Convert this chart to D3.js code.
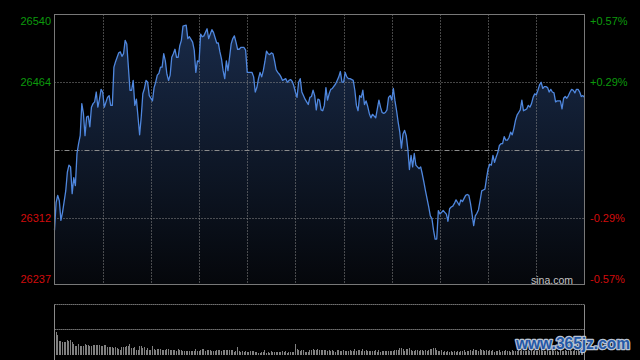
<!DOCTYPE html>
<html><head><meta charset="utf-8">
<script src="https://cdn.jsdelivr.net/npm/d3@7"></script>
<style>html,body{margin:0;padding:0;background:#000;} svg{display:block}</style>
</head><body>
<svg id="c" width="640" height="360"></svg>
<script>
// trading minutes since 09:30 (lunch break removed), and index level
const minutes = [0,1,2,3,4,5,7,8,9,10,11,12,13,14,15,16,17,18,19,20,21,22,23,24,25,26,27,28,29,30,31,33,34,35,36,37,38,39,40,41,42,43,44,45,46,47,48,49,50,51,52,53,54,55,56,57,58,59,61,62,63,64,65,66,67,68,69,70,71,72,73,74,75,76,77,78,79,80,82,83,84,85,86,87,88,89,90,91,92,93,95,96,98,99,101,102,103,104,105,106,107,108,109,110,111,112,113,114,115,116,118,119,120,121,123,124,125,126,127,128,129,130,131,132,133,134,135,136,137,138,139,140,141,142,144,145,146,147,148,149,150,151,152,153,154,155,156,157,158,159,160,161,162,163,164,165,166,167,168,169,170,171,172,173,175,176,177,178,179,180,181,182,183,184,186,187,188,189,190,191,192,193,194,195,196,197,198,200,201,202,203,204,205,206,207,208,209,210,211,212,213,214,215,216,217,218,219,220,221,222,223,224,225,226,227,228,229,230,231,232,233,234,235,236,237,238,239,240,241,242,243,244,245,246,247,248,249,250,251,252,253,254,256,257,258,259,260,261,262,263,264,265,266,267,268,269,270,271,272,273,274,275,276,277,278,279,280,281,282,283,284,285,286,287,288,289,290,291,292,293,294,295,296,297,298,299,300,301,302,303,304,305,306,307,308,309,310,311,312,313,314,315,316,317,318,319,320,321,322,323,324,325,326,327,328,329,330];
const prices = [26298,26329,26337,26331,26309,26318,26342,26363,26371,26369,26339,26357,26348,26384,26395,26404,26440,26429,26404,26425,26426,26414,26436,26440,26442,26453,26436,26445,26456,26453,26436,26447,26449,26438,26438,26481,26487,26492,26497,26498,26493,26496,26511,26507,26481,26455,26455,26466,26438,26445,26425,26405,26425,26451,26457,26466,26464,26449,26443,26458,26464,26472,26474,26481,26481,26496,26488,26473,26466,26472,26492,26496,26501,26492,26492,26505,26511,26527,26528,26513,26515,26512,26509,26500,26475,26488,26487,26518,26515,26516,26524,26513,26523,26520,26508,26508,26498,26490,26477,26468,26488,26477,26492,26507,26513,26516,26509,26501,26501,26503,26503,26500,26475,26475,26475,26470,26453,26458,26468,26475,26470,26477,26487,26499,26496,26495,26497,26496,26488,26478,26475,26473,26470,26466,26468,26464,26466,26467,26465,26460,26453,26447,26464,26468,26453,26449,26445,26442,26439,26447,26448,26455,26449,26433,26445,26444,26433,26432,26438,26458,26444,26451,26456,26457,26462,26466,26470,26476,26464,26464,26475,26470,26468,26468,26466,26455,26438,26432,26449,26447,26455,26439,26443,26437,26429,26424,26428,26424,26434,26444,26436,26430,26429,26430,26433,26447,26449,26444,26457,26443,26432,26419,26408,26390,26406,26410,26404,26389,26366,26382,26369,26384,26371,26369,26367,26369,26361,26352,26342,26333,26324,26314,26311,26298,26288,26288,26320,26316,26318,26320,26318,26316,26308,26322,26324,26325,26328,26332,26329,26326,26332,26330,26337,26338,26337,26328,26316,26303,26314,26317,26321,26331,26342,26343,26344,26356,26367,26372,26371,26382,26374,26380,26385,26393,26395,26395,26403,26399,26399,26402,26408,26405,26412,26421,26427,26430,26433,26444,26432,26433,26434,26438,26436,26440,26447,26451,26450,26455,26461,26464,26457,26459,26459,26458,26453,26456,26453,26452,26442,26443,26443,26443,26434,26446,26448,26446,26449,26453,26456,26455,26452,26456,26456,26453,26448,26449,26447];
// volume per minute (relative units, index = minute)
const volumes = [100,46,40,28,28,25,25,25,30,27,
30,25,22,18,17,22,17,18,18,22,
20,20,18,18,20,20,20,20,20,18,
17,19,19,15,15,15,15,14,15,13,
12,10,15,15,15,17,18,21,13,13,
15,10,10,18,18,13,15,10,13,10,
10,18,11,9,11,11,11,9,9,10,
11,11,10,9,9,10,8,11,10,10,
8,8,8,7,8,8,8,8,11,8,
8,10,11,11,7,9,9,9,8,7,
7,9,9,10,8,9,10,10,10,9,
10,10,6,7,15,7,6,8,6,8,
6,5,8,7,8,5,5,3,3,6,
6,9,3,5,3,7,5,6,6,6,
6,5,7,5,8,3,6,5,5,5,
22,11,9,7,9,9,6,6,6,9,
9,11,10,10,11,9,10,10,10,10,
8,10,7,10,8,6,9,9,7,7,
10,7,8,7,9,8,8,11,8,10,
10,7,11,8,9,7,8,7,8,8,
9,6,9,6,8,8,8,7,7,8,
8,7,10,10,10,13,13,11,7,11,
11,13,10,8,7,10,9,8,10,10,
7,10,7,10,11,11,13,13,10,8,
7,10,6,7,5,8,6,7,6,8,
5,7,6,8,7,9,6,8,7,10,
8,11,9,10,8,11,9,10,7,9,
8,10,7,9,6,8,7,9,6,8,
7,9,7,8,6,9,7,8,7,9,
8,10,7,8,7,9,8,10,8,9,
7,8,10,9,7,8,7,9,8,7,
9,8,7,8,6,9,7,8,9,7,
8,9,7,8,10,8,9,7,8,9,
12];
const leftTicks = [26540, 26464, 26312, 26237];
const rightTicks = ["+0.57%", "+0.29%", "-0.29%", "-0.57%"];
const prevClose = 26388.5;
const sourceLabel = "sina.com";
const watermarkLabel = "www.365jz.com";

const W = 640, H = 360;
const plot = {l: 54.5, r: 584.5, t: 14.5, b: 284.5};
const vol = {t: 304.5, b: 354.5};
const x = d3.scaleLinear().domain([0, 330]).range([plot.l, plot.r]);
const y = d3.scaleLinear().domain([26237, 26540]).range([plot.b, plot.t]);
const yv = d3.scaleLinear().domain([0, 100]).range([vol.b, vol.t]);
const font = "'Liberation Sans', Arial, sans-serif";

const svg = d3.select("#c");
svg.append("rect").attr("width", W).attr("height", H).attr("fill", "#000");

const defs = svg.append("defs");
const grad = defs.append("linearGradient").attr("id", "ag")
  .attr("gradientUnits", "userSpaceOnUse")
  .attr("x1", 0).attr("x2", 0).attr("y1", plot.t).attr("y2", plot.b);
grad.append("stop").attr("offset", 0).attr("stop-color", "#192b4a");
grad.append("stop").attr("offset", 1).attr("stop-color", "#05070b");

const pts = minutes.map((m, i) => ({m, p: prices[i]}));

svg.append("path").datum(pts)
  .attr("fill", "url(#ag)")
  .attr("d", d3.area().x(d => x(d.m)).y0(plot.b).y1(d => y(d.p)));

// grid
const grid = svg.append("g");
const vLines = d3.range(30, 330, 30);
grid.selectAll("line.v").data(vLines).join("line")
  .attr("x1", d => Math.round(x(d)) + 0.5).attr("x2", d => Math.round(x(d)) + 0.5)
  .attr("y1", plot.t).attr("y2", plot.b)
  .attr("stroke", "#8c8c8c").attr("stroke-dasharray", "1,2");
grid.selectAll("line.h").data([26464, 26312]).join("line")
  .attr("x1", plot.l).attr("x2", plot.r)
  .attr("y1", d => Math.round(y(d)) + 0.5).attr("y2", d => Math.round(y(d)) + 0.5)
  .attr("stroke", "#8c8c8c").attr("stroke-dasharray", "1,2");
grid.append("line")
  .attr("x1", plot.l).attr("x2", plot.r)
  .attr("y1", Math.round(y(prevClose)) + 0.5).attr("y2", Math.round(y(prevClose)) + 0.5)
  .attr("stroke", "#8c8c8c").attr("stroke-dasharray", "5,2,1,2");

svg.append("path").datum(pts)
  .attr("fill", "none").attr("stroke", "#4f87de").attr("stroke-width", 1.3)
  .attr("stroke-linejoin", "round")
  .attr("d", d3.line().x(d => x(d.m)).y(d => y(d.p)));

// border main
svg.append("rect").attr("x", plot.l).attr("y", plot.t)
  .attr("width", plot.r - plot.l).attr("height", plot.b - plot.t)
  .attr("fill", "none").attr("stroke", "#787878");

// labels
svg.selectAll("text.lt").data(leftTicks).join("text")
  .attr("x", 51).attr("y", d => Math.min(Math.max(y(d), plot.t + 6), plot.b - 6))
  .attr("text-anchor", "end").attr("dominant-baseline", "central")
  .attr("font-family", font).attr("font-size", 11)
  .attr("fill", d => d > prevClose ? "#0c9a0c" : "#d20c0c")
  .text(d => d);
svg.selectAll("text.rt").data(rightTicks).join("text")
  .attr("x", 590).attr("y", (d, i) => Math.min(Math.max(y(leftTicks[i]), plot.t + 6), plot.b - 6))
  .attr("text-anchor", "start").attr("dominant-baseline", "central")
  .attr("font-family", font).attr("font-size", 11)
  .attr("fill", d => d[0] === "+" ? "#0c9a0c" : "#d20c0c")
  .text(d => d);

svg.append("text").attr("x", 573).attr("y", 279.5)
  .attr("text-anchor", "end").attr("dominant-baseline", "central")
  .attr("font-family", font).attr("font-size", 10.5).attr("fill", "#c4c4c4")
  .text(sourceLabel);

// volume panel
svg.selectAll("line.vg").data([100, 50]).join("line")
  .attr("x1", plot.l).attr("x2", plot.r)
  .attr("y1", d => yv(d)).attr("y2", d => yv(d))
  .attr("stroke", "#8c8c8c").attr("stroke-dasharray", "1.3,0.7");
svg.append("g").selectAll("rect").data(volumes).join("rect")
  .attr("x", (d, i) => Math.floor(x(i)))
  .attr("width", 1)
  .attr("y", d => yv(d))
  .attr("height", d => vol.b - yv(d))
  .attr("fill", "#808080").attr("shape-rendering", "crispEdges");
svg.selectAll("line.vb").data([plot.l, plot.r]).join("line")
  .attr("x1", d => d).attr("x2", d => d).attr("y1", vol.t).attr("y2", H)
  .attr("stroke", "#8a8a8a");

// watermark
svg.append("text").attr("x", 516).attr("y", 349)
  .attr("font-family", "'Liberation Sans', Arial, sans-serif").attr("font-weight", "bold")
  .attr("font-size", 16).attr("textLength", 114).attr("lengthAdjust", "spacingAndGlyphs")
  .attr("fill", "#2458a6").attr("stroke", "#b9c3d4").attr("stroke-width", 2.5)
  .attr("paint-order", "stroke").attr("stroke-linejoin", "round")
  .text(watermarkLabel);
</script>
</body></html>
